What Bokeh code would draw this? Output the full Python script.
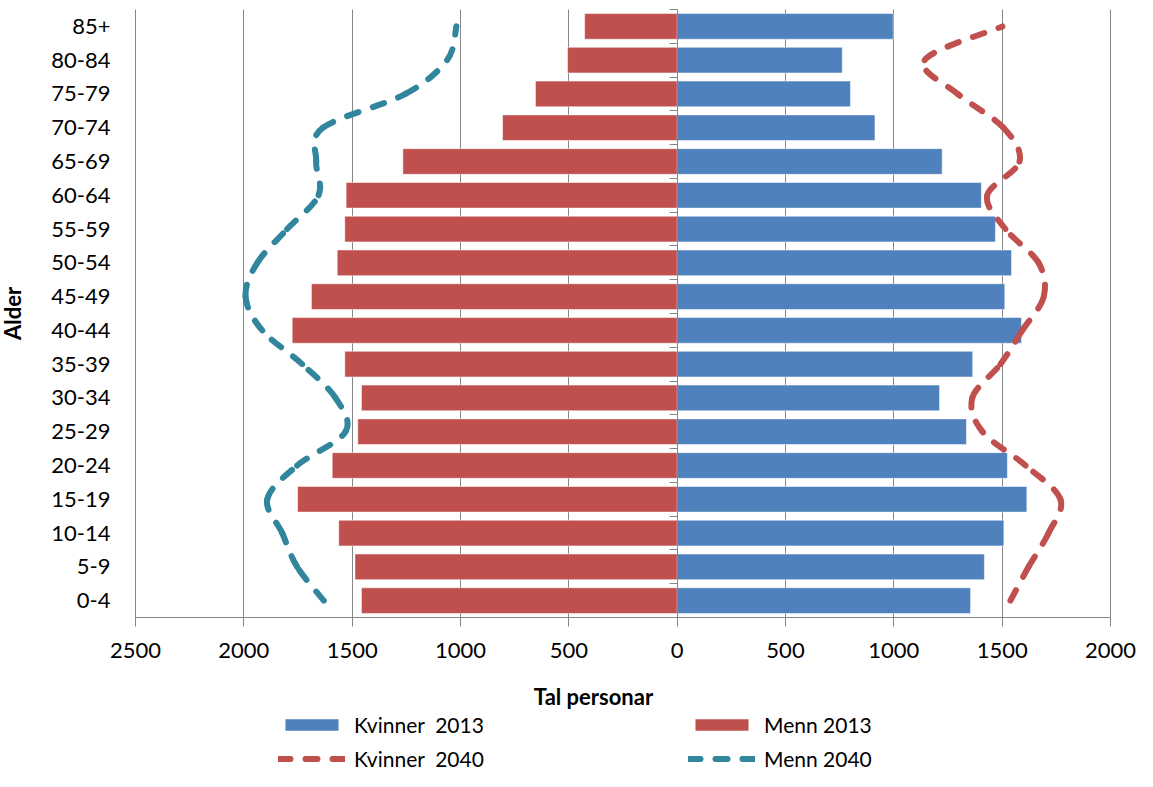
from bokeh.plotting import figure
from bokeh.models import (Range1d, FixedTicker, LinearAxis, CustomJSTickFormatter,
                          Legend, LegendItem, ColumnDataSource)
from bokeh.embed import file_html
from bokeh.resources import INLINE

# ---------------- data ----------------
age_groups = ["0-4", "5-9", "10-14", "15-19", "20-24", "25-29", "30-34", "35-39",
              "40-44", "45-49", "50-54", "55-59", "60-64", "65-69", "70-74",
              "75-79", "80-84", "85+"]
women_2013 = [1354, 1418, 1508, 1614, 1524, 1335, 1211, 1364, 1589, 1512, 1543,
              1469, 1404, 1223, 913, 800, 762, 997]
men_2013 = [1457, 1487, 1562, 1752, 1592, 1474, 1457, 1534, 1777, 1688, 1569,
            1534, 1528, 1266, 806, 654, 506, 427]
women_2040 = [1538, 1622, 1714, 1769, 1608, 1409, 1362, 1492, 1593, 1692, 1668,
              1515, 1431, 1580, 1506, 1295, 1142, 1501]
men_2040 = [1631, 1754, 1823, 1892, 1754, 1531, 1577, 1731, 1915, 1992, 1938,
            1800, 1655, 1666, 1635, 1254, 1062, 1019]
x_ticks = [-2500, -2000, -1500, -1000, -500, 0, 500, 1000, 1500, 2000]

BLUE = "#4F81BD"
RED = "#C0504D"
TEAL = "#31859C"
GRID = "#868686"
FONT = "Lato"

n = len(age_groups)
idx = list(range(n))
XMIN, XMAX = x_ticks[0], x_ticks[-1]

# layout in pixels: the frame covers the whole canvas, the plot area is a part of it
W, H = 1137, 771
AREA_L, AREA_R, AREA_T, AREA_B = 135, 1110, 9, 617
TITLE_CX = 593          # horizontal centre of the x axis title
sx = (AREA_R - AREA_L) / (XMAX - XMIN)
sy = (AREA_B - AREA_T) / n
x_range = Range1d(XMIN - AREA_L / sx, XMAX + (W - AREA_R) / sx)
y_range = Range1d((n - 0.5) - (H - AREA_T) / sy, (n - 0.5) + AREA_T / sy)

p = figure(width=W, height=H, output_backend="svg", toolbar_location=None,
           x_range=x_range, y_range=y_range,
           min_border_left=0, min_border_right=0, min_border_top=0,
           min_border_bottom=0)
p.outline_line_color = None
p.background_fill_color = "white"
p.border_fill_color = "white"

# vertical grid lines, limited to the plot area
p.ygrid.grid_line_color = None
g = p.xgrid[0]
g.ticker = FixedTicker(ticks=x_ticks)
g.grid_line_color = GRID
g.grid_line_width = 1
g.cross_bounds = (-0.5, n - 0.5)

# x axis at the bottom of the plot area
xa = p.xaxis[0]
xa.fixed_location = -0.5
xa.bounds = (XMIN, XMAX)
xa.ticker = FixedTicker(ticks=x_ticks)
xa.formatter = CustomJSTickFormatter(code="return Math.abs(tick).toString()")
xa.axis_line_color = GRID
xa.major_tick_line_color = GRID
xa.major_tick_out = 9
xa.major_tick_in = 0
xa.minor_tick_line_color = None
xa.major_label_text_font = FONT
xa.major_label_text_font_size = "22px"
xa.major_label_text_color = "black"
xa.major_label_standoff = 16

# x axis title, carried by a bare axis whose span is centred on the title position
t_mid = XMIN + (TITLE_CX - AREA_L) / sx
t_half = min(t_mid - x_range.start, x_range.end - t_mid)
xt = LinearAxis(fixed_location=-0.5, bounds=(t_mid - t_half, t_mid + t_half),
                ticker=FixedTicker(ticks=[]),
                axis_line_color=None, major_tick_line_color=None,
                minor_tick_line_color=None, major_tick_out=0, major_tick_in=0,
                axis_label="Tal personar", axis_label_text_font=FONT,
                axis_label_text_font_size="22px",
                axis_label_text_font_style="bold",
                axis_label_text_color="black", axis_label_standoff=65)
p.add_layout(xt, "below")

# y axis (labels only) at the left edge of the plot area
ya = p.yaxis[0]
ya.fixed_location = XMIN
ya.bounds = (-0.5, n - 0.5)
ya.ticker = FixedTicker(ticks=idx)
ya.major_label_overrides = {i: lab for i, lab in enumerate(age_groups)}
ya.axis_line_color = None
ya.major_tick_line_color = None
ya.minor_tick_line_color = None
ya.major_tick_out = 0
ya.major_tick_in = 0
ya.major_label_standoff = 25
ya.major_label_text_font = FONT
ya.major_label_text_font_size = "22px"
ya.major_label_text_color = "black"
ya.axis_label = "Alder"
ya.axis_label_text_font = FONT
ya.axis_label_text_font_size = "22px"
ya.axis_label_text_font_style = "bold"
ya.axis_label_text_color = "black"
ya.axis_label_standoff = 22

# category axis line at x = 0 with ticks between categories
ax0 = LinearAxis(fixed_location=0, bounds=(-0.5, n - 0.5),
                 ticker=FixedTicker(ticks=[i - 0.5 for i in range(n + 1)]),
                 formatter=CustomJSTickFormatter(code="return ''"),
                 major_tick_in=8, major_tick_out=0,
                 minor_tick_line_color=None,
                 axis_line_color=GRID, major_tick_line_color=GRID,
                 major_label_standoff=0)
p.add_layout(ax0, "right")

# bars
src = ColumnDataSource(dict(y=idx, women=women_2013,
                            men=[-v for v in men_2013]))
r_w = p.hbar(y="y", left=0, right="women", height=0.76, source=src,
             fill_color=BLUE, line_color="white", line_alpha=0.5, line_width=1)
r_m = p.hbar(y="y", left="men", right=0, height=0.76, source=src,
             fill_color=RED, line_color="white", line_alpha=0.5, line_width=1)


# smoothed 2040 lines (Bezier segments through the data points)
def bezier_source(xs):
    pts = list(zip(xs, idx))
    m = len(pts)
    d = dict(x0=[], y0=[], x1=[], y1=[], cx0=[], cy0=[], cx1=[], cy1=[])
    for i in range(m - 1):
        pa = pts[max(i - 1, 0)]
        pb = pts[i]
        pc = pts[i + 1]
        pd = pts[min(i + 2, m - 1)]
        d["x0"].append(pb[0]); d["y0"].append(pb[1])
        d["x1"].append(pc[0]); d["y1"].append(pc[1])
        d["cx0"].append(pb[0] + (pc[0] - pa[0]) / 6.0)
        d["cy0"].append(pb[1] + (pc[1] - pa[1]) / 6.0)
        d["cx1"].append(pc[0] - (pd[0] - pb[0]) / 6.0)
        d["cy1"].append(pc[1] - (pd[1] - pb[1]) / 6.0)
    return ColumnDataSource(d)


r_w40 = p.bezier(x0="x0", y0="y0", x1="x1", y1="y1", cx0="cx0", cy0="cy0",
                 cx1="cx1", cy1="cy1", source=bezier_source(women_2040),
                 line_color=RED, line_width=6, line_dash="12 15",
                 line_cap="round")
r_m40 = p.bezier(x0="x0", y0="y0", x1="x1", y1="y1", cx0="cx0", cy0="cy0",
                 cx1="cx1", cy1="cy1",
                 source=bezier_source([-v for v in men_2040]),
                 line_color=TEAL, line_width=6, line_dash="12 15",
                 line_cap="round")

# legend (items fill column by column)
legend = Legend(items=[LegendItem(label="Kvinner  2013", renderers=[r_w]),
                       LegendItem(label="Kvinner  2040", renderers=[r_w40]),
                       LegendItem(label="Menn 2013", renderers=[r_m]),
                       LegendItem(label="Menn 2040", renderers=[r_m40])],
                ncols=2, location=(AREA_L + 143, 0),
                glyph_width=67, glyph_height=15, label_standoff=9,
                label_width=325, label_height=22, spacing=9,
                padding=0, margin=0, border_line_color=None,
                background_fill_alpha=0,
                label_text_font=FONT, label_text_font_size="21px",
                label_text_color="black")
p.add_layout(legend, "center")

open("out.html", "w").write(file_html(p, INLINE))
